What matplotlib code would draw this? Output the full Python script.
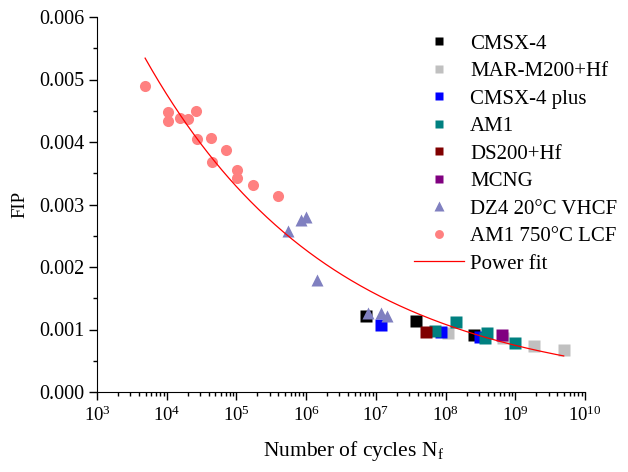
import matplotlib
matplotlib.use("Agg")
import matplotlib.pyplot as plt
import numpy as np
from matplotlib.ticker import MultipleLocator, LogLocator, NullFormatter, FormatStrFormatter

plt.rcParams['font.family'] = ['Liberation Serif', 'DejaVu Serif']
plt.rcParams['mathtext.fontset'] = 'stix'

# data (cycles, FIP)
cmsx4_n = [7.2e6, 3.8e7, 2.56e8]
cmsx4_fip = [0.00122, 0.00114, 0.00091]

marm200_n = [1.07e8, 6.7e8, 1.88e9, 4.95e9]
marm200_fip = [0.00094, 0.00087, 0.00074, 0.00068]

cmsx4plus_n = [1.19e7, 8.6e7, 3.1e8]
cmsx4plus_fip = [0.00108, 0.000955, 0.00088]

am1_n = [7.1e7, 1.4e8, 3.7e8, 3.9e8, 1.0e9]
am1_fip = [0.00097, 0.00112, 0.00087, 0.00094, 0.00078]

ds200_n = [5.3e7]
ds200_fip = [0.00096]

mcng_n = [6.4e8]
mcng_fip = [0.00092]

dz4_n = [5.5e5, 8.3e5, 1.0e6, 1.43e6, 7.7e6, 1.2e7, 1.45e7]
dz4_fip = [0.00258, 0.00275, 0.00280, 0.00180, 0.00126, 0.00126, 0.00122]

am1lcf_n = [4.9e3, 1.03e4, 1.04e4, 1.53e4, 2.04e4, 2.63e4, 2.75e4, 4.33e4,
            7.2e4, 4.4e4, 1.02e5, 1.02e5, 1.71e5, 3.96e5]
am1lcf_fip = [0.00489, 0.00448, 0.00433, 0.00438, 0.00437, 0.00450, 0.00405,
              0.00406, 0.00387, 0.003675, 0.00355, 0.00343, 0.00332, 0.00314]

# power fit FIP = a * N^b
fit_a = 0.02098
fit_b = -0.161
fit_range = [4.9e3, 4.95e9]

fig = plt.figure(figsize=(6.28, 4.72), dpi=100)
ax = fig.add_axes([97/628, 1-392/472, (585-97)/628, (392-17)/472])

sq = 8
ax.plot(cmsx4_n, cmsx4_fip, 's', color='#000000', ms=sq, mec='none', label='CMSX-4')
ax.plot(marm200_n, marm200_fip, 's', color='#C0C0C0', ms=sq, mec='none', label='MAR-M200+Hf')
ax.plot(cmsx4plus_n, cmsx4plus_fip, 's', color='#0000FF', ms=sq, mec='none', label='CMSX-4 plus')
ax.plot(am1_n, am1_fip, 's', color='#008080', ms=sq, mec='none', label='AM1')
ax.plot(ds200_n, ds200_fip, 's', color='#800000', ms=sq, mec='none', label='DS200+Hf')
ax.plot(mcng_n, mcng_fip, 's', color='#800080', ms=sq, mec='none', label='MCNG')
ax.plot(dz4_n, dz4_fip, '^', color='#8080C0', ms=9, mec='none', label='DZ4 20°C VHCF')
ax.plot(am1lcf_n, am1lcf_fip, 'o', color='#FF8080', ms=8, mec='none',
        label='AM1 750°C LCF')

xf = np.logspace(np.log10(fit_range[0]), np.log10(fit_range[1]), 300)
ax.plot(xf, fit_a * xf ** fit_b, '-', color='#FF0000', lw=0.9, label='Power fit')

ax.set_xscale('log')
ax.set_xlim(1e3, 1e10)
ax.set_ylim(0, 0.006)
ax.xaxis.set_major_locator(LogLocator(base=10, numticks=20))
ax.xaxis.set_minor_locator(LogLocator(base=10, subs=np.arange(2, 10), numticks=20))
ax.xaxis.set_minor_formatter(NullFormatter())
ax.yaxis.set_major_locator(MultipleLocator(0.001))
ax.yaxis.set_minor_locator(MultipleLocator(0.0005))
ax.yaxis.set_major_formatter(FormatStrFormatter('%.3f'))

for s in ['top', 'right']:
    ax.spines[s].set_visible(False)
ax.tick_params(which='major', direction='out', length=6, width=1)
ax.tick_params(which='minor', direction='out', length=3, width=1)
ax.tick_params(axis='x', which='major', labelsize=13.5, pad=4)
ax.tick_params(axis='y', which='major', labelsize=14.5, pad=3)

ax.set_xlabel('Number of cycles N$_\\mathregular{f}$', fontsize=15.5)
ax.xaxis.set_label_coords(0.525, -0.125)
ax.set_ylabel('FIP', fontsize=13.5, labelpad=8)

ax.legend(loc='upper left', bbox_to_anchor=(414/628, 1-34/472),
          bbox_transform=fig.transFigure, frameon=False, fontsize=15,
          handlelength=2.4, handletextpad=0.3, labelspacing=0.38,
          borderpad=0, borderaxespad=0, markerscale=0.8)

fig.savefig('out.png', dpi=100)
